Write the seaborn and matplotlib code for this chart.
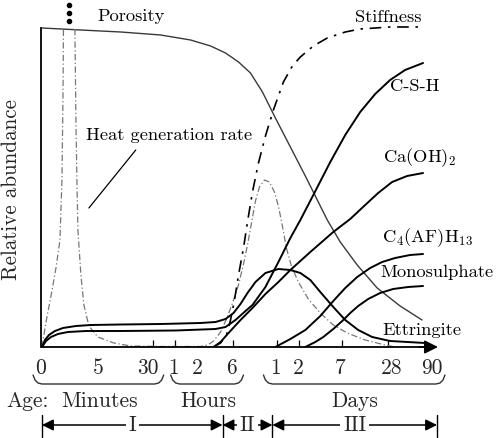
import matplotlib
matplotlib.use("Agg")
import matplotlib.pyplot as plt
import seaborn as sns

# time axis: positions along the (non-linear) age axis, abundance in arbitrary units
tick_marks = [56, 111, 133, 156, 191, 236, 258, 301, 347]
label_pos = [-1, 56, 106, 132, 156, 190, 234, 257, 299, 351, 391]
tick_labels = ["0", "5", "30", "1", "2", "6", "1", "2", "7", "28", "90"]

porosity_x = [0, 39, 79, 119, 149, 169, 184, 197, 209, 221, 234, 249, 264, 277, 286, 299, 316, 336, 359, 381]
porosity_y = [319, 317, 315, 312, 307, 301, 294, 285, 274, 255, 229, 200, 171, 145, 127, 105, 82, 59, 41, 27]

ettringite_x = [0, 3, 7, 13, 21, 34, 49, 79, 119, 159, 174, 184, 192, 199, 206, 214, 224, 237,
                249, 259, 269, 279, 292, 304, 317, 331, 349, 384]
ettringite_y = [0, 7, 12, 16, 19, 21, 22, 22.5, 23, 24, 25, 28, 34, 43, 54, 65, 74, 78,
                77, 74, 67, 55, 40, 27, 17, 10, 6, 4]

csh_x = [0, 4, 9, 16, 26, 44, 79, 134, 174, 184, 194, 204, 211, 224, 237, 249, 259, 272,
         289, 304, 319, 334, 349, 364, 382]
csh_y = [0, 6, 10, 13, 15, 16, 16, 16.5, 18, 20, 27, 36, 42, 60, 85, 109, 127, 152,
         185, 212, 235, 253, 267, 277, 284]

caoh_x = [172, 179, 187, 199, 211, 224, 237, 249, 269, 292, 309, 324, 337, 351, 366, 382]
caoh_y = [0, 5, 14, 27, 39, 53, 65, 77, 95, 115, 128, 142, 154, 165, 171, 174]

c4afh_x = [234, 249, 264, 279, 292, 304, 316, 329, 341, 354, 369, 382]
c4afh_y = [0, 8, 17, 31, 46, 59, 70, 79, 85, 89, 92, 93]

mono_x = [264, 274, 282, 292, 301, 309, 317, 327, 339, 352, 367, 382]
mono_y = [0, 5, 10, 18, 26, 34, 41, 48, 54, 58, 60, 61]

stiff_x = [172, 179, 185, 189, 193, 197, 202, 206, 211, 217, 224, 232, 242, 251, 259, 272,
           286, 304, 319, 349, 382]
stiff_y = [0, 4, 12, 27, 47, 72, 99, 125, 155, 184, 211, 237, 265, 281, 290, 301,
           309, 315, 318, 320, 320]

heat_rise_x = [0, 4, 9, 14, 18, 20, 21, 21.5]
heat_rise_y = [0, 25, 51, 79, 107, 167, 247, 318]
heat_x = [33, 34, 35, 36, 39, 42, 47, 56, 72, 89, 119, 159, 166, 172, 179, 185, 191, 197, 202,
          206, 210, 214, 218, 223, 228, 233, 237, 241, 245, 250, 257, 267, 279, 292, 306, 324, 344, 354]
heat_y = [318, 227, 167, 117, 72, 42, 21, 10, 4, 1, 0.5, 0.5, 2, 6, 15, 28, 44, 62, 83,
          102, 124, 146, 160, 167, 165, 155, 141, 121, 99, 81, 65, 48, 34, 22, 14, 7, 2, 0]

groups = ["Minutes", "Hours", "Days"]
group_span = [(-9, 122), (129, 202), (222, 404)]
stages = ["I", "II", "III"]
stage_bounds = [0, 181, 231, 396]

sns.set_theme(style="white")
plt.rcParams["font.family"] = ["cmr10", "DejaVu Serif"]
plt.rcParams["mathtext.fontset"] = "cm"
plt.rcParams["axes.unicode_minus"] = False

fig = plt.figure(figsize=(5, 4.38), dpi=100)
ax = fig.add_axes([41 / 500, 91 / 438, 400 / 500, 330 / 438])
ax.set_xlim(0, 400)
ax.set_ylim(0, 330)


def curve(x, y, **kw):
    sns.lineplot(x=x, y=y, ax=ax, sort=False, estimator=None, **kw)


solid = dict(color="black", lw=1.4)
curve(porosity_x, porosity_y, color="#3a3a3a", lw=1.0)
curve(heat_rise_x, heat_rise_y, color="#777777", lw=0.9, linestyle=(0, (5, 2, 1, 2)))
curve(heat_x, heat_y, color="#777777", lw=0.9, linestyle=(0, (5, 2, 1, 2)))
curve(stiff_x, stiff_y, color="black", lw=1.2, linestyle=(0, (7, 4, 1.5, 4)))
curve(ettringite_x, ettringite_y, **solid)
curve(csh_x, csh_y, **solid)
curve(caoh_x, caoh_y, **solid)
curve(c4afh_x, c4afh_y, **solid)
curve(mono_x, mono_y, **solid)

# off-scale marker for the first heat peak
ax.plot([27, 27, 27], [342, 334, 326], "o", color="black", ms=3, clip_on=False)

lab = dict(fontsize=13.3, ha="left", va="baseline", color="black")
ax.text(56, 326, "Porosity", **lab)
ax.text(314, 325, "Stiffness", **lab)
ax.text(349, 256, "C-S-H", **lab)
ax.text(342, 185, "Ca(OH)$_2$", **lab)
ax.text(341, 105, "C$_4$(AF)H$_{13}$", **lab)
ax.text(339, 70, "Monosulphate", **lab)
ax.text(341, 12, "Ettringite", **lab)
ax.text(44, 207, "Heat generation rate", **lab)
ax.plot([94, 47], [197, 139], color="black", lw=0.9)

# axes
for s in ["top", "right"]:
    ax.spines[s].set_visible(False)
ax.spines["left"].set_bounds(0, 319)
ax.spines["bottom"].set_bounds(0, 390)
for s in ["left", "bottom"]:
    ax.spines[s].set_color("black")
    ax.spines[s].set_linewidth(1.3)
ax.annotate("", xy=(397, 0), xytext=(378, 0), annotation_clip=False,
            arrowprops=dict(arrowstyle="-|>", color="black", lw=1.3,
                            mutation_scale=20, shrinkA=0, shrinkB=0))

ax.set_yticks([])
ax.set_xticks(label_pos)
ax.set_xticklabels(tick_labels, fontsize=15.5)
ax.set_xticks(tick_marks, minor=True)
ax.tick_params(axis="x", which="major", length=0, pad=8, bottom=True)
ax.tick_params(axis="x", which="minor", direction="in", length=5, width=0.9,
               color="black", bottom=True)
ax.set_ylabel("Relative abundance", fontsize=15.2)
ax.yaxis.set_label_coords(-0.05, 0.476)

# age groups with braces
for name, (x0, x1) in zip(groups, group_span):
    bx = [x0, x0 + 2, x0 + 5, x0 + 9, x1 - 9, x1 - 5, x1 - 2, x1]
    by = [-28, -33, -36, -37, -37, -36, -33, -28]
    ax.plot(bx, by, color="#333333", lw=1.0, clip_on=False)
    ax.text((x0 + x1) / 2 + 1, -60, name, fontsize=15.5, ha="center", va="baseline")
ax.text(-36, -60, "Age:", fontsize=15.5, ha="left", va="baseline")

# hydration stages
for x in stage_bounds:
    ax.plot([x, x], [-68, -90], color="black", lw=1.0, clip_on=False)
for name, x0, x1 in zip(stages, stage_bounds[:-1], stage_bounds[1:]):
    ax.annotate("", xy=(x1, -78), xytext=(x0, -78), annotation_clip=False,
                arrowprops=dict(arrowstyle="<|-|>", color="black", lw=1.1,
                                mutation_scale=17, shrinkA=0, shrinkB=0))
    ax.text((x0 + x1) / 2, -78, name, fontsize=15.5, ha="center", va="center",
            bbox=dict(facecolor="white", edgecolor="none", pad=2))

fig.savefig("out.png", dpi=100)
